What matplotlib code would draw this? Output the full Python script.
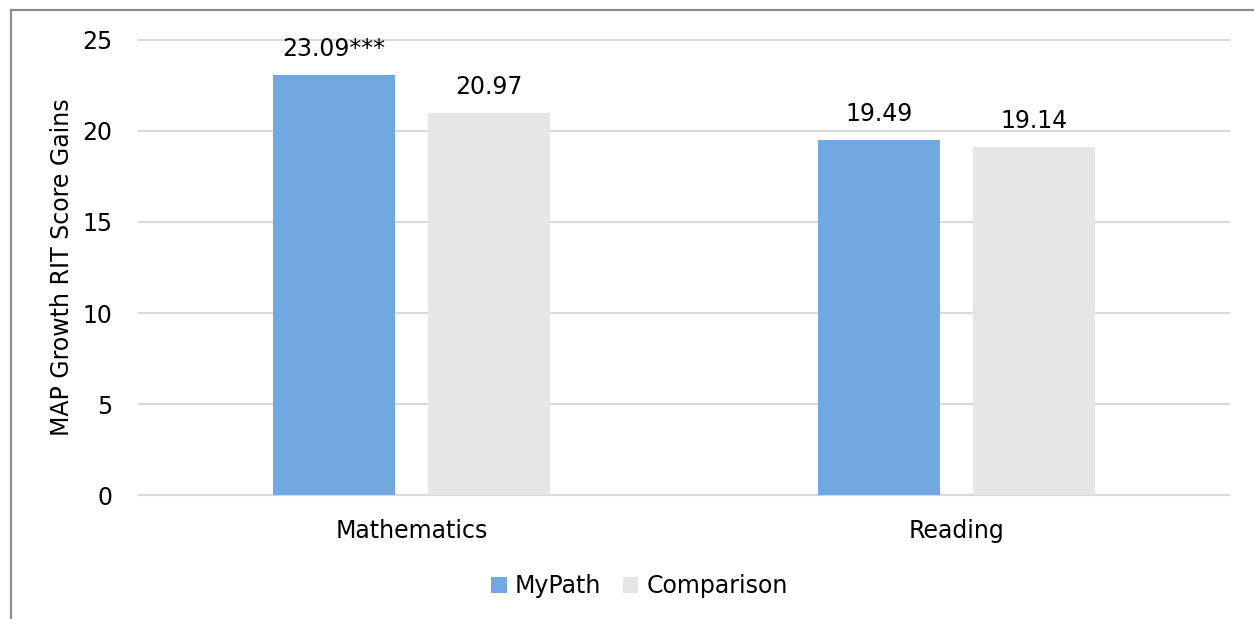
import matplotlib.pyplot as plt
from matplotlib.lines import Line2D
import numpy as np

categories = ["Mathematics", "Reading"]
mypath = [23.09, 19.49]
comparison = [20.97, 19.14]
mypath_labels = ["23.09***", "19.49"]
comparison_labels = ["20.97", "19.14"]
series_names = ["MyPath", "Comparison"]
y_ticks = [0, 5, 10, 15, 20, 25]


def main():
    plt.rcParams['font.family'] = ['DejaVu Sans']
    fig = plt.figure(figsize=(12.54, 6.19), dpi=100)
    ax = fig.add_axes([0.1108, 0.2003, 0.8692, 0.7351])

    x = np.arange(len(categories))
    width = 0.224
    offset = 0.142
    b1 = ax.bar(x - offset, mypath, width, color='#70a9e0', label=series_names[0], zorder=3)
    b2 = ax.bar(x + offset, comparison, width, color='#e6e6e6', label=series_names[1], zorder=3)

    for bars, labels in ((b1, mypath_labels), (b2, comparison_labels)):
        for bar, lab in zip(bars, labels):
            ax.annotate(lab, (bar.get_x() + bar.get_width() / 2, bar.get_height()),
                        xytext=(0, 10), textcoords='offset points',
                        ha='center', va='bottom', fontsize=17)

    ax.set_xlim(-0.5, 1.5)
    ax.set_ylim(0, 25)
    ax.set_yticks(y_ticks)
    ax.set_xticks(x)
    ax.set_xticklabels(categories)
    ax.tick_params(axis='both', length=0, labelsize=17)
    ax.tick_params(axis='x', pad=17)
    ax.tick_params(axis='y', pad=19)
    ax.grid(axis='y', color='#d9d9d9', linewidth=1.5, zorder=0)
    for gl in ax.get_ygridlines():
        gl.set_clip_on(False)
    for side in ('top', 'right', 'left'):
        ax.spines[side].set_visible(False)
    ax.spines['bottom'].set_color('#d9d9d9')
    ax.spines['bottom'].set_linewidth(1.5)
    ax.set_ylabel('MAP Growth RIT Score Gains', fontsize=17, labelpad=6)

    ax.legend(loc='center', bbox_to_anchor=(0.51, 0.053), bbox_transform=fig.transFigure,
              ncol=2, frameon=False, fontsize=17, handlelength=0.65, handleheight=0.65,
              handletextpad=0.35, columnspacing=0.9)

    # outer chart border (left and top only visible)
    fig.add_artist(Line2D([11 / 1254, 11 / 1254], [0, 1 - 10 / 619], color='#8c8c8c', linewidth=1.6))
    fig.add_artist(Line2D([11 / 1254, 1], [1 - 10 / 619, 1 - 10 / 619], color='#8c8c8c', linewidth=1.6))

    fig.savefig('out.png', dpi=100)


if __name__ == "__main__":
    main()
